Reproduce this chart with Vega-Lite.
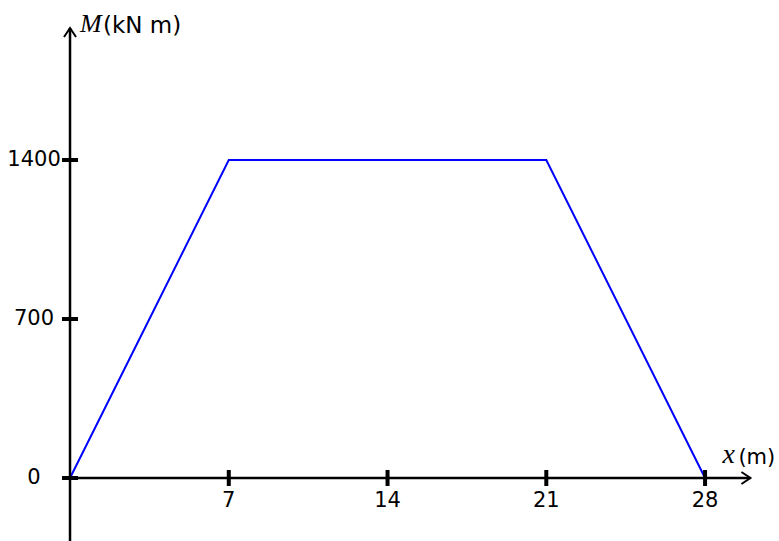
{
  "$schema": "https://vega.github.io/schema/vega-lite/v6.json",
  "width": 779,
  "height": 541,
  "padding": 0,
  "autosize": {"type": "none"},
  "background": "white",
  "config": {"view": {"stroke": null}},
  "encoding": {
    "x": {"field": "x", "type": "quantitative", "axis": null, "scale": {"domain": [-3.087, 31.26], "nice": false, "zero": false}},
    "y": {"field": "y", "type": "quantitative", "axis": null, "scale": {"domain": [-277.4, 2104.4], "nice": false, "zero": false}}
  },
  "layer": [
    {
      "data": {"values": [{"x": 0, "y": 0}, {"x": 7, "y": 1400}, {"x": 21, "y": 1400}, {"x": 28, "y": 0}]},
      "mark": {"type": "line", "color": "#0000ff", "strokeWidth": 2}
    },
    {
      "data": {"values": [{"x": 0, "x2": 30, "y": 0, "y2": 0}, {"x": 0, "x2": 0, "y": -277.4, "y2": 1981}]},
      "mark": {"type": "rule", "color": "black", "strokeWidth": 2.5},
      "encoding": {"x2": {"field": "x2"}, "y2": {"field": "y2"}}
    },
    {
      "data": {"values": [{"x": 30, "y": 0}]},
      "mark": {"type": "point", "shape": "M-1.5,-1L0,0L-1.5,1", "size": 144, "filled": false, "stroke": "black", "strokeWidth": 2, "opacity": 1}
    },
    {
      "data": {"values": [{"x": 0, "y": 1981}]},
      "mark": {"type": "point", "shape": "M-1,1.5L0,0L1,1.5", "size": 144, "filled": false, "stroke": "black", "strokeWidth": 2, "opacity": 1}
    },
    {
      "data": {"values": [{"x": 7, "y": 0}, {"x": 14, "y": 0}, {"x": 21, "y": 0}, {"x": 28, "y": 0}]},
      "mark": {"type": "tick", "orient": "vertical", "size": 16, "thickness": 4, "color": "black", "opacity": 1}
    },
    {
      "data": {"values": [{"x": 0, "y": 0}, {"x": 0, "y": 700}, {"x": 0, "y": 1400}]},
      "mark": {"type": "tick", "orient": "horizontal", "size": 16, "thickness": 4, "color": "black", "opacity": 1}
    },
    {
      "data": {"values": [{"x": 7, "y": 0}, {"x": 14, "y": 0}, {"x": 21, "y": 0}, {"x": 28, "y": 0}]},
      "mark": {"type": "text", "font": "DejaVu Sans", "fontSize": 21, "align": "center", "baseline": "middle", "dy": 23, "color": "black"},
      "encoding": {"text": {"field": "x", "type": "quantitative"}}
    },
    {
      "data": {"values": [{"x": 0, "y": 0}, {"x": 0, "y": 700}, {"x": 0, "y": 1400}]},
      "mark": {"type": "text", "font": "DejaVu Sans", "fontSize": 21, "align": "center", "baseline": "middle", "dx": -36, "color": "black"},
      "encoding": {"text": {"field": "y", "type": "quantitative"}}
    },
    {
      "data": {"values": [{"x": 0, "y": 1981, "t": "M"}]},
      "mark": {"type": "text", "font": "Liberation Serif", "fontStyle": "italic", "fontSize": 26, "align": "left", "baseline": "alphabetic", "dx": 10, "dy": 4, "color": "black"},
      "encoding": {"text": {"field": "t"}}
    },
    {
      "data": {"values": [{"x": 0, "y": 1981, "t": "(kN m)"}]},
      "mark": {"type": "text", "font": "DejaVu Sans", "fontSize": 23, "align": "left", "baseline": "alphabetic", "dx": 33, "dy": 5, "color": "black"},
      "encoding": {"text": {"field": "t"}}
    },
    {
      "data": {"values": [{"x": 30, "y": 0, "t": "x"}]},
      "mark": {"type": "text", "font": "Liberation Serif", "fontStyle": "italic", "fontSize": 28, "align": "left", "baseline": "alphabetic", "dx": -28, "dy": -15, "color": "black"},
      "encoding": {"text": {"field": "t"}}
    },
    {
      "data": {"values": [{"x": 30, "y": 0, "t": "(m)"}]},
      "mark": {"type": "text", "font": "DejaVu Sans", "fontSize": 21, "align": "left", "baseline": "alphabetic", "dx": -12, "dy": -14, "color": "black"},
      "encoding": {"text": {"field": "t"}}
    }
  ]
}
